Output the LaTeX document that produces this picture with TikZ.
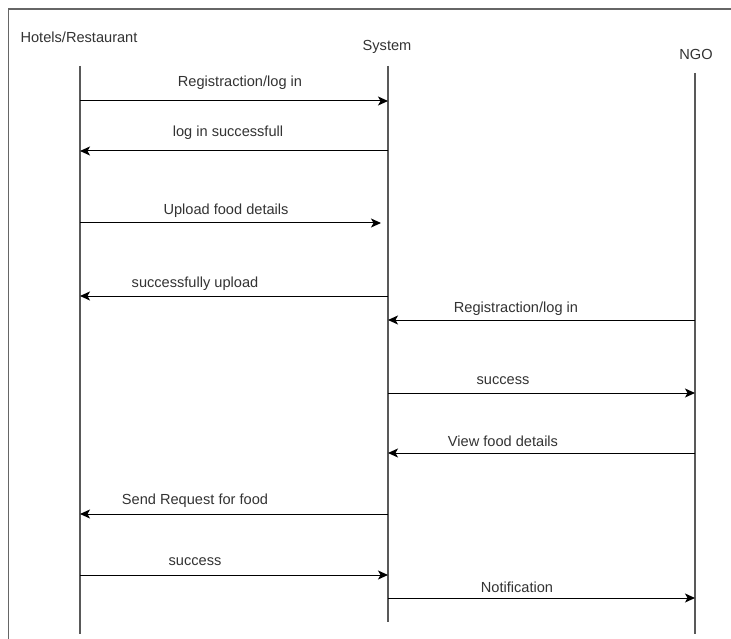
\documentclass[tikz,border=0pt]{standalone}
\usepackage{fontspec}
\setmainfont{Liberation Sans}
\usetikzlibrary{arrows.meta}

\tikzset{
  lifeline/.style={draw=black!65, line width=1.1pt},
  msg/.style={draw=black, line width=1pt, -{Stealth[length=10pt, width=9pt, inset=2.5pt]}},
  msglabel/.style={font=\fontsize{14.6}{16}\selectfont, text=black!80, inner sep=0pt},
  actor/.style={font=\fontsize{14.6}{16}\selectfont, text=black!80, inner sep=0pt}
}

\begin{document}
\begin{tikzpicture}[x=1pt, y=-1pt]
    \useasboundingbox (0,0) rectangle (731,639);
    \clip (0,0) rectangle (731,639);
    \fill[white] (0,0) rectangle (731,639);
    \draw[black!60, line width=1.2pt] (8.5,9) rectangle (760,680);

    % actors
    \node[actor] (hotel) at (79,37) {Hotels/Restaurant};
    \node[actor] (system) at (387,47) {System};
    \node[actor] (ngo) at (696,54) {NGO};

    % lifelines
    \coordinate (hotTop) at (80,66);
    \coordinate (hotBot) at (80,634);
    \coordinate (sysTop) at (388,66);
    \coordinate (sysBot) at (388,622);
    \coordinate (ngoTop) at (695,73);
    \coordinate (ngoBot) at (695,634);
    \draw[lifeline] (hotTop) -- (hotBot);
    \draw[lifeline] (sysTop) -- (sysBot);
    \draw[lifeline] (ngoTop) -- (ngoBot);

    % messages
    \draw[msg] (hotTop |- 0,101) -- (sysTop |- 0,101);
    \node[msglabel] (m1) at (240,83) {Registraction/log in};
    \draw[msg] (sysTop |- 0,151) -- (hotTop |- 0,151);
    \node[msglabel] (m2) at (228,133) {log in successfull};
    \draw[msg] (hotTop |- 0,223) -- (381,223);
    \node[msglabel] (m3) at (226,211) {Upload food details};
    \draw[msg] (sysTop |- 0,296) -- (hotTop |- 0,296);
    \node[msglabel] (m4) at (195,284) {successfully upload};
    \draw[msg] (ngoTop |- 0,320) -- (sysTop |- 0,320);
    \node[msglabel] (m5) at (516,309) {Registraction/log in};
    \draw[msg] (sysTop |- 0,393) -- (ngoTop |- 0,393);
    \node[msglabel] (m6) at (503,381) {success};
    \draw[msg] (ngoTop |- 0,453) -- (sysTop |- 0,453);
    \node[msglabel] (m7) at (503,441) {View food details};
    \draw[msg] (sysTop |- 0,514) -- (hotTop |- 0,514);
    \node[msglabel] (m8) at (195,501) {Send Request for food};
    \draw[msg] (hotTop |- 0,575) -- (sysTop |- 0,575);
    \node[msglabel] (m9) at (195,562) {success};
    \draw[msg] (sysTop |- 0,598) -- (ngoTop |- 0,598);
    \node[msglabel] (m10) at (517,587) {Notification};
\end{tikzpicture}
\end{document}
